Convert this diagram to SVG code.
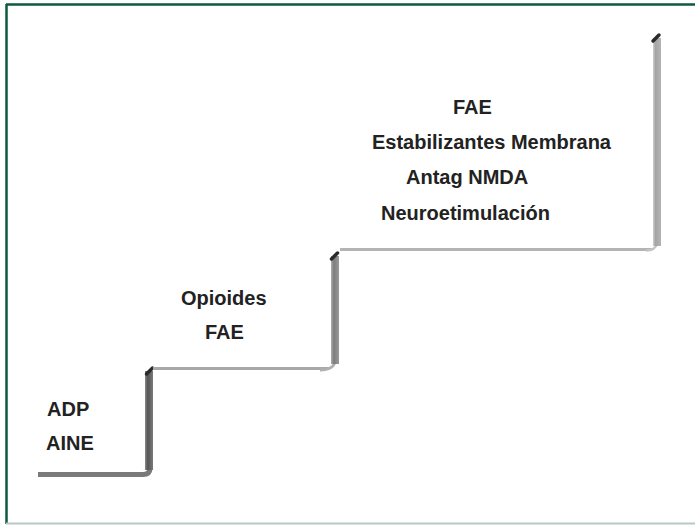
<svg xmlns="http://www.w3.org/2000/svg" width="695" height="526" viewBox="0 0 695 526">
  <style>
    .lbl { font-family: "Liberation Sans", Arial, sans-serif; font-weight: bold; font-size: 20px; fill: #222; }
    .tread { fill: none; stroke-linecap: butt; }
    .cap { stroke: #2a2a2a; stroke-width: 3.5; stroke-linecap: round; }
  </style>
  <defs>
    <linearGradient id="riserDark" x1="0" y1="0" x2="1" y2="0">
      <stop offset="0" stop-color="#8a8a8a"/>
      <stop offset="0.35" stop-color="#555"/>
      <stop offset="1" stop-color="#7a7a7a"/>
    </linearGradient>
    <linearGradient id="riserMid" x1="0" y1="0" x2="1" y2="0">
      <stop offset="0" stop-color="#b0b0b0"/>
      <stop offset="0.35" stop-color="#7c7c7c"/>
      <stop offset="1" stop-color="#9a9a9a"/>
    </linearGradient>
    <linearGradient id="riserLight" x1="0" y1="0" x2="1" y2="0">
      <stop offset="0" stop-color="#d0d0d0"/>
      <stop offset="0.3" stop-color="#a4a4a4"/>
      <stop offset="1" stop-color="#b4b4b4"/>
    </linearGradient>
  </defs>

  <rect width="695" height="526" fill="#fff"/>

  <!-- frame -->
  <line x1="6" y1="4.5" x2="695" y2="4.5" stroke="#0d5a3c" stroke-width="2.5"/>
  <line x1="6.5" y1="4" x2="6.5" y2="524" stroke="#0d5a3c" stroke-width="2.5"/>
  <line x1="6" y1="523.5" x2="695" y2="523.5" stroke="#b9c9c2" stroke-width="2"/>

  <!-- staircase -->
  <g id="stairs">
    <g id="step1">
      <path class="tread" d="M38 474.5 H143 Q150 474.5 150 468" stroke="#7a7a7a" stroke-width="5"/>
      <rect x="145" y="371" width="8" height="99" fill="url(#riserDark)"/>
      <line class="cap" x1="146.5" y1="374" x2="152.5" y2="368"/>
    </g>
    <g id="step2">
      <line class="tread" x1="153" y1="368.5" x2="329" y2="368.5" stroke="#a8a8a8" stroke-width="3"/>
      <path class="tread" d="M320 370 Q333 370 335 362" stroke="#b0b0b0" stroke-width="3"/>
      <rect x="331" y="256" width="8" height="108" fill="url(#riserMid)"/>
      <line class="cap" x1="331.5" y1="259" x2="337.5" y2="253"/>
    </g>
    <g id="step3">
      <line class="tread" x1="340" y1="249.5" x2="652" y2="249.5" stroke="#b4b4b4" stroke-width="3"/>
      <path class="tread" d="M646 250.5 Q655 250.5 657 244" stroke="#c4c4c4" stroke-width="2.5"/>
      <rect x="653" y="38" width="8" height="208" fill="url(#riserLight)"/>
      <line class="cap" x1="653" y1="41" x2="659" y2="35"/>
    </g>
  </g>

  <!-- labels -->
  <g id="level1">
    <text class="lbl" x="47" y="416">ADP</text>
    <text class="lbl" x="46" y="450">AINE</text>
  </g>
  <g id="level2">
    <text class="lbl" x="181" y="305">Opioides</text>
    <text class="lbl" x="205" y="339">FAE</text>
  </g>
  <g id="level3">
    <text class="lbl" x="453" y="114">FAE</text>
    <text class="lbl" x="372" y="149">Estabilizantes Membrana</text>
    <text class="lbl" x="406" y="184">Antag NMDA</text>
    <text class="lbl" x="381" y="220">Neuroetimulación</text>
  </g>
</svg>
